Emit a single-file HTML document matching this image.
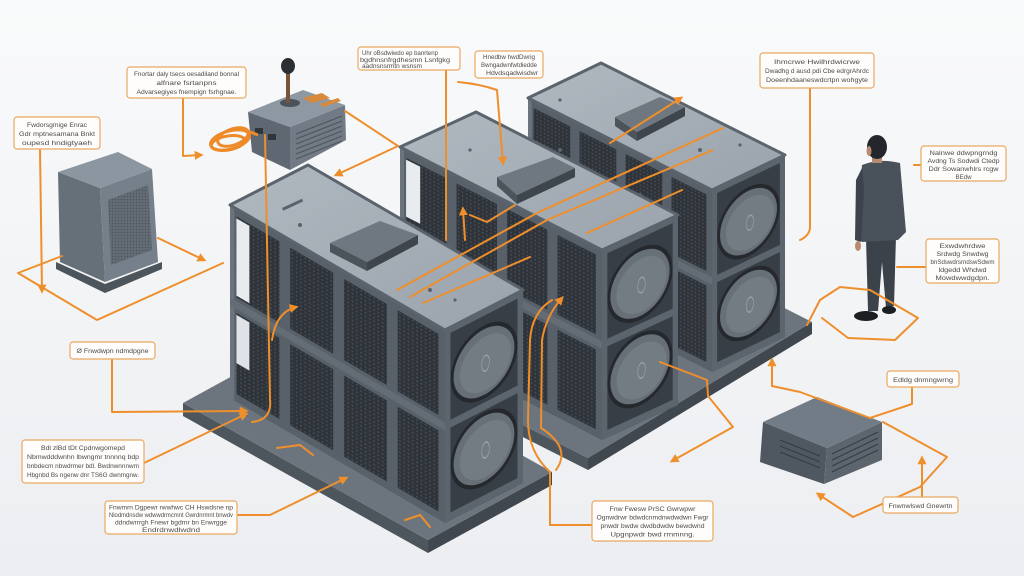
<!DOCTYPE html>
<html><head><meta charset="utf-8">
<style>
html,body{margin:0;padding:0;background:#f6f7f9;overflow:hidden}
svg{display:block}
.lb rect{fill:#fffdfb;stroke:#e9a862;stroke-width:1.2}
.lb text{font-family:"Liberation Sans",sans-serif;font-size:6.4px;fill:#4a4a4a;text-anchor:middle}
.o{fill:none;stroke:#ef8f2c;stroke-width:2;stroke-linejoin:round;stroke-linecap:round}
</style></head><body>
<svg width="1024" height="576" viewBox="0 0 1024 576" xmlns="http://www.w3.org/2000/svg">
<defs>
 <linearGradient id="bg" x1="0" y1="0" x2="0" y2="1"><stop offset="0" stop-color="#f9fafb"/><stop offset="1" stop-color="#eceef1"/></linearGradient>
 <linearGradient id="top" x1="0" y1="0" x2="1" y2="1"><stop offset="0" stop-color="#b0b8c0"/><stop offset="1" stop-color="#9aa3ac"/></linearGradient>
 <marker id="ar" viewBox="0 0 10 10" refX="7" refY="5" markerWidth="4.5" markerHeight="4.5" orient="auto"><path d="M0,0 L10,5 L0,10 z" fill="#ef8f2c"/></marker>
 <pattern id="mesh" width="2" height="2" patternUnits="userSpaceOnUse"><rect width="2" height="2" fill="#2f343a"/><circle cx="1" cy="1" r="0.45" fill="#4a5058"/></pattern>
 <pattern id="mesh2" width="3" height="3" patternUnits="userSpaceOnUse"><rect width="3" height="3" fill="#636c75"/><circle cx="1.5" cy="1.5" r="0.7" fill="#4b535b"/></pattern>
 <g id="side">
  <rect width="100" height="100" fill="#58606a"/>
  <rect x="0" width="2" height="100" fill="#6b747d"/>
  <rect x="3" y="4" width="20" height="42" fill="url(#mesh)"/>
  <rect x="28" y="4" width="20" height="42" fill="url(#mesh)"/>
  <rect x="53" y="4" width="20" height="42" fill="url(#mesh)"/>
  <rect x="78" y="4" width="19" height="42" fill="url(#mesh)"/>
  <rect x="3" y="54" width="20" height="42" fill="url(#mesh)"/>
  <rect x="28" y="54" width="20" height="42" fill="url(#mesh)"/>
  <rect x="53" y="54" width="20" height="42" fill="url(#mesh)"/>
  <rect x="78" y="54" width="19" height="42" fill="url(#mesh)"/>
  <rect x="0" y="48" width="100" height="4" fill="#646d76"/>
 </g>
 <g id="front">
  <rect width="100" height="100" fill="#383e45"/>
  <ellipse cx="50" cy="27" rx="43" ry="19" fill="#25292e"/>
  <ellipse cx="50" cy="27" rx="39" ry="17" fill="#676f77"/>
  <ellipse cx="52" cy="28" rx="33" ry="14" fill="#737b83"/>
  <ellipse cx="52" cy="28" rx="5" ry="4" fill="none" stroke="#9aa2aa" stroke-width="0.8"/>
  <ellipse cx="50" cy="72" rx="43" ry="19" fill="#25292e"/>
  <ellipse cx="50" cy="72" rx="39" ry="17" fill="#676f77"/>
  <ellipse cx="52" cy="73" rx="33" ry="14" fill="#737b83"/>
  <ellipse cx="52" cy="73" rx="5" ry="4" fill="none" stroke="#9aa2aa" stroke-width="0.8"/>
  <rect x="0" width="7" height="100" fill="#5c656e"/>
  <rect x="93" width="7" height="100" fill="#5c656e"/>
  <rect width="100" height="3" fill="#5c656e"/>
  <rect y="48" width="100" height="4" fill="#5c656e"/>
  <rect y="96" width="100" height="4" fill="#5c656e"/>
 </g>
</defs>

<rect width="1024" height="576" fill="url(#bg)"/>

<!-- cabinet -->
<polygon points="56,262 105,284 162,262 162,269 105,293 56,269" fill="#4c545c"/>
<polygon points="58,172 100,188 105,282 60,262" fill="#667079"/>
<polygon points="100,188 152,169 158,262 105,282" fill="#76808a"/>
<polygon points="108,200 148,185 152,250 111,265" fill="url(#mesh2)"/>
<polygon points="58,172 118,152 152,169 100,188" fill="#8c96a0"/>

<!-- PSU -->
<polygon points="248,112 290,127 290,170 252,152" fill="#5f6872"/>
<polygon points="290,127 345,105 346,140 290,170" fill="#727b85"/>
<g stroke="#4d555e" stroke-width="1.2">
 <line x1="296" y1="134" x2="342" y2="116"/><line x1="296" y1="139" x2="342" y2="121"/>
 <line x1="296" y1="144" x2="342" y2="126"/><line x1="296" y1="149" x2="342" y2="131"/>
 <line x1="296" y1="154" x2="342" y2="136"/><line x1="296" y1="159" x2="342" y2="141"/>
</g>
<polygon points="248,112 303,90 345,105 290,127" fill="#8e98a2"/>
<rect x="255" y="128" width="8" height="6" fill="#30353b"/>
<rect x="268" y="134" width="8" height="6" fill="#30353b"/>
<path d="M303,98 L322,93 L330,98 L312,103 z M320,104 L338,98 L341,101 L323,107z" fill="#d88a3c"/>
<ellipse cx="290" cy="103" rx="10" ry="4" fill="#4a525b"/>
<rect x="286" y="70" width="4" height="33" fill="#7a5236"/>
<ellipse cx="288" cy="66" rx="7" ry="8" fill="#2b2f34"/>
<g fill="none" stroke="#ee8a28" stroke-width="3">
 <ellipse cx="230" cy="140" rx="20" ry="9" transform="rotate(-15 230 140)"/>
 <ellipse cx="228" cy="143" rx="17" ry="7" transform="rotate(-10 228 143)"/>
 <ellipse cx="233" cy="137" rx="16" ry="8" transform="rotate(-20 233 137)"/>
 <path d="M245,130 L258,135"/>
</g>

<!-- plate 2 -->
<polygon points="440,383 588,458 588,470 440,395" fill="#4d555d"/>
<polygon points="588,458 812,322 812,334 588,470" fill="#40474f"/>
<polygon points="440,383 588,458 812,322 664,247" fill="#6c757e"/>

<!-- rack 3 -->
<g transform="matrix(1.84,0.92,0,1.82,528,98)"><use href="#side"/></g>
<g transform="matrix(0.73,-0.35,0,1.82,712,190)"><use href="#front"/></g>
<polygon points="528,98 601,63 785,155 712,190" fill="url(#top)" stroke="#5b646d" stroke-width="3" stroke-linejoin="round"/>
<polygon points="615,117 637,132 637,141 615,126" fill="#4b535b"/>
<polygon points="637,132 685,107 685,116 637,141" fill="#3e454d"/>
<polygon points="615,117 660,97 685,107 637,132" fill="#6f7881"/>

<!-- rack 2 -->
<g transform="matrix(2.02,1.03,0,1.90,400,147)"><use href="#side"/><rect x="3" y="5" width="7" height="30" fill="#e9ecef"/></g>
<g transform="matrix(0.76,-0.35,0,1.90,602,250)"><use href="#front"/></g>
<polygon points="400,147 476,112 678,215 602,250" fill="url(#top)" stroke="#5b646d" stroke-width="3" stroke-linejoin="round"/>
<polygon points="497,177 517,195 517,204 497,186" fill="#4b535b"/>
<polygon points="517,195 575,168 575,177 517,204" fill="#3e454d"/>
<polygon points="497,177 553,157 575,168 517,195" fill="#6f7881"/>

<!-- plate 1 -->
<polygon points="183,403 428,540 428,553 183,416" fill="#4d555d"/>
<polygon points="428,540 552,472 552,485 428,553" fill="#40474f"/>
<polygon points="183,403 428,540 552,472 307,335" fill="#6c757e"/>

<!-- rack 1 -->
<g transform="matrix(2.15,1.25,0,1.93,230,205)"><use href="#side"/><rect x="3" y="5" width="6" height="40" fill="#e9ecef"/><rect x="3" y="55" width="6" height="25" fill="#dfe2e6"/></g>
<g transform="matrix(0.78,-0.40,0,1.93,445,330)"><use href="#front"/></g>
<polygon points="230,205 308,165 523,290 445,330" fill="url(#top)" stroke="#5b646d" stroke-width="3" stroke-linejoin="round"/>
<polygon points="330,243 367,262 367,271 330,252" fill="#4b535b"/>
<polygon points="367,262 418,235 418,244 367,271" fill="#3e454d"/>
<polygon points="330,243 380,221 418,235 367,262" fill="#6f7881"/>
<g fill="#5a636c">
 <rect x="282" y="208" width="22" height="3" transform="rotate(-25 282 208)"/>
 <circle cx="300" cy="225" r="2"/><circle cx="430" cy="290" r="2"/><circle cx="455" cy="300" r="1.6"/>
 <circle cx="560" cy="150" r="2"/><circle cx="470" cy="150" r="1.6"/><circle cx="640" cy="195" r="2"/>
 <circle cx="560" cy="100" r="1.6"/><circle cx="700" cy="150" r="2"/><circle cx="740" cy="145" r="1.6"/>
</g>

<!-- small box -->
<polygon points="763,422 827,448 824,484 760,462" fill="#4f5760"/>
<polygon points="827,448 882,422 882,460 824,484" fill="#5c656e"/>
<g stroke="#363c43" stroke-width="1.2">
 <line x1="832" y1="454" x2="878" y2="432"/><line x1="832" y1="460" x2="878" y2="438"/>
 <line x1="832" y1="466" x2="878" y2="444"/><line x1="832" y1="472" x2="878" y2="450"/>
 <line x1="780" y1="440" x2="820" y2="456"/><line x1="780" y1="446" x2="820" y2="462"/>
 <line x1="780" y1="452" x2="820" y2="468"/>
</g>
<polygon points="763,422 817,397 882,422 827,448" fill="#727c86"/>

<!-- person -->
<path d="M866,238 L896,236 L894,306 L886,308 L882,262 L878,311 L868,311 Z" fill="#3b424a"/>
<ellipse cx="866" cy="316" rx="12" ry="5" fill="#1c1f22"/>
<ellipse cx="889" cy="310" rx="7" ry="4" fill="#1c1f22"/>
<path d="M862,165 Q880,158 900,163 L906,232 L898,240 L862,242 L857,236 Z" fill="#49515b"/>
<path d="M862,168 L856,180 L855,240 L861,242 L864,190 Z" fill="#3c434c"/>
<ellipse cx="858" cy="246" rx="3" ry="5" fill="#b88b70"/>
<rect x="872" y="155" width="10" height="8" fill="#b88b70"/>
<ellipse cx="877" cy="147" rx="10" ry="12" fill="#23262a"/>
<ellipse cx="869" cy="151" rx="2.5" ry="5" fill="#b88b70"/>

<!-- orange connectors -->
<g class="o">
 <path d="M183,98 V156 L201,155" marker-end="url(#ar)"/>
 <path d="M40,149 L42,291" marker-end="url(#ar)"/>
 <path d="M62,256 L18,273 L97,320 L223,263"/>
 <path d="M158,238 L204,260" marker-end="url(#ar)"/>
 <path d="M345,111 L398,146 L336,175" marker-end="url(#ar)"/>
 <path d="M265,135 L270,400 Q272,420 252,422"/>
 <path d="M112,360 V412 L246,411" marker-end="url(#ar)"/>
 <path d="M144,463 L246,414" marker-end="url(#ar)"/>
 <path d="M237,515 H270 L346,478" marker-end="url(#ar)"/>
 <path d="M272,340 Q276,312 296,307" marker-end="url(#ar)"/>
 <path d="M397,290 L537,213 L723,128"/>
 <path d="M410,297 L547,220 L713,150"/>
 <path d="M423,303 L530,257"/>
 <path d="M587,233 L682,190"/>
 <path d="M610,143 L681,98" marker-end="url(#ar)"/>
 <path d="M446,70 V240"/>
 <path d="M458,82 Q480,84 497,90 L503,163" marker-end="url(#ar)"/>
 <path d="M465,240 L463,209" marker-end="url(#ar)"/>
 <path d="M470,215 L487,222 L515,205"/>
 <path d="M592,525 H550 V472 Q528,452 528,420 L530,340 Q532,312 552,300"/>
 <path d="M556,470 Q572,448 541,428 L542,340 Q546,316 562,298" marker-end="url(#ar)"/>
 <path d="M660,362 L707,380 L708,396 L733,427 L672,461" marker-end="url(#ar)"/>
 <path d="M912,387 V404 L870,418 L800,392 L772,386 V360" marker-end="url(#ar)"/>
 <path d="M883,422 L947,457 L920,487 L853,517 L818,494" marker-end="url(#ar)"/>
 <path d="M922,497 V458" marker-end="url(#ar)"/>
 <path d="M807,325 L820,300 L840,287 L870,290 L918,318 L895,340 L848,338 L822,318"/>
 <path d="M897,267 H925"/>
 <path d="M914,165 H921"/>
 <path d="M810,88 V228 Q809,236 800,240"/>
 <path d="M277,448 L300,445 L313,455"/>
 <path d="M405,520 L420,515 L430,527"/>
</g>

<!-- labels -->
<g class="lb">
 <rect x="127" y="67" width="119" height="31" rx="3"/>
 <text x="186.5" y="76" textLength="105" lengthAdjust="spacingAndGlyphs">Fnortar daly tsecs oesadiland bonnal</text>
 <text x="186.5" y="85" textLength="60" lengthAdjust="spacingAndGlyphs">alfnare fsrtanpns</text>
 <text x="186.5" y="94" textLength="100" lengthAdjust="spacingAndGlyphs">Advarsegiyes fnempign fsrhgnae.</text>

 <rect x="14" y="117" width="86" height="32" rx="3"/>
 <text x="57" y="127" textLength="60" lengthAdjust="spacingAndGlyphs">Fwdorsgmige Enrac</text>
 <text x="57" y="136" textLength="76" lengthAdjust="spacingAndGlyphs">Gdr mptnesamana Bnkt</text>
 <text x="57" y="145" textLength="70" lengthAdjust="spacingAndGlyphs">oupesd hndigtyaeh</text>

 <rect x="358" y="47" width="102" height="23" rx="3"/>
 <text x="400" y="55" textLength="76" lengthAdjust="spacingAndGlyphs">Uhr oBsdwiwdo ep banrtenp</text>
 <text x="405" y="62" textLength="90" lengthAdjust="spacingAndGlyphs">bgdhnsnfrgdhesmn Lsnfgkg</text>
 <text x="392" y="68" textLength="60" lengthAdjust="spacingAndGlyphs">aadnsnsrmtn wsnsm</text>

 <rect x="475" y="51" width="68" height="27" rx="3"/>
 <text x="509" y="59" textLength="52" lengthAdjust="spacingAndGlyphs">Hnedbw hwdDwrig</text>
 <text x="509" y="67" textLength="56" lengthAdjust="spacingAndGlyphs">Bwngadwnfwtdiedde</text>
 <text x="512" y="75" textLength="52" lengthAdjust="spacingAndGlyphs">Hdvdsqadwisdwr</text>

 <rect x="760" y="53" width="114" height="35" rx="3"/>
 <text x="817" y="64" textLength="86" lengthAdjust="spacingAndGlyphs">Ihmcrwe Hwilhrdwicrwe</text>
 <text x="817" y="73" textLength="104" lengthAdjust="spacingAndGlyphs">Dwadhg d ausd pdi Cbe edrgrAhrdc</text>
 <text x="817" y="82" textLength="102" lengthAdjust="spacingAndGlyphs">Doeenhdaaneswdcrtpn wohgyte</text>

 <rect x="921" y="146" width="85" height="35" rx="3"/>
 <text x="963.5" y="155" textLength="68" lengthAdjust="spacingAndGlyphs">Nalnwe ddwpngrndg</text>
 <text x="963.5" y="163" textLength="72" lengthAdjust="spacingAndGlyphs">Avdng Ts Sodwdi Ctedp</text>
 <text x="963.5" y="171" textLength="70" lengthAdjust="spacingAndGlyphs">Ddr Sowanwhlrs rcgw</text>
 <text x="963.5" y="179" textLength="16" lengthAdjust="spacingAndGlyphs">BEdw</text>

 <rect x="926" y="239" width="73" height="44" rx="3"/>
 <text x="962.5" y="248" textLength="46" lengthAdjust="spacingAndGlyphs">Exwdwhrdwe</text>
 <text x="962.5" y="256" textLength="52" lengthAdjust="spacingAndGlyphs">Srdwdg Snwdwg</text>
 <text x="962.5" y="264" textLength="64" lengthAdjust="spacingAndGlyphs">bnSdswdrsrndswSdwm</text>
 <text x="962.5" y="272" textLength="48" lengthAdjust="spacingAndGlyphs">ldgedd Whdwd</text>
 <text x="962.5" y="280" textLength="54" lengthAdjust="spacingAndGlyphs">Mowdwwdgdpn.</text>

 <rect x="887" y="371" width="72" height="16" rx="3"/>
 <text x="923" y="382" textLength="60" lengthAdjust="spacingAndGlyphs">Edldg dnmngwrng</text>

 <rect x="883" y="497" width="75" height="16" rx="3"/>
 <text x="920.5" y="508" textLength="64" lengthAdjust="spacingAndGlyphs">Fnwnwlswd Gnewrtn</text>

 <rect x="70" y="342" width="85" height="17" rx="3"/>
 <text x="112.5" y="353" textLength="72" lengthAdjust="spacingAndGlyphs">Ø Fnwdwpn ndmdpgne</text>

 <rect x="22" y="440" width="122" height="43" rx="3"/>
 <text x="83" y="450" textLength="84" lengthAdjust="spacingAndGlyphs">Bdl zlBd tDt Cpdnwgomepd</text>
 <text x="83" y="459" textLength="112" lengthAdjust="spacingAndGlyphs">Nbmwdddwnhn lbwngmr tnnnnq bdp</text>
 <text x="83" y="468" textLength="112" lengthAdjust="spacingAndGlyphs">bnbdecm nbwdrmer bdl. Bwdnwnnnwm</text>
 <text x="83" y="477" textLength="112" lengthAdjust="spacingAndGlyphs">Hbgnbd Bs ngenw dnr TS6G dwnmgnw.</text>

 <rect x="105" y="501" width="132" height="33" rx="3"/>
 <text x="171" y="509.5" textLength="124" lengthAdjust="spacingAndGlyphs">Fnwmrn Dgpewr rwwhwc CH Hswdsne np</text>
 <text x="171" y="517" textLength="124" lengthAdjust="spacingAndGlyphs">Nlodmdnsdw wdwwdrmcmnt Gwrdnrmnt bnwdv</text>
 <text x="171" y="524.5" textLength="112" lengthAdjust="spacingAndGlyphs">ddndwrrrgh Fnewr bgdrnr bn Enwrgge</text>
 <text x="171" y="532" textLength="58" lengthAdjust="spacingAndGlyphs">Endrdnwdlwdnd</text>

 <rect x="592" y="501" width="121" height="40" rx="3"/>
 <text x="652.5" y="511" textLength="86" lengthAdjust="spacingAndGlyphs">Fnw Fwesw PrSC Gwrwpwr</text>
 <text x="652.5" y="519.5" textLength="112" lengthAdjust="spacingAndGlyphs">Ognwdrwr bdwdcnmdnwdwdwn Fwgr</text>
 <text x="652.5" y="528" textLength="104" lengthAdjust="spacingAndGlyphs">pnwdr bwdw dwdbdwdw bewdwnd</text>
 <text x="652.5" y="536.5" textLength="84" lengthAdjust="spacingAndGlyphs">Upgnpwdr bwd rrnmnng.</text>
</g>
</svg>
</body></html>
